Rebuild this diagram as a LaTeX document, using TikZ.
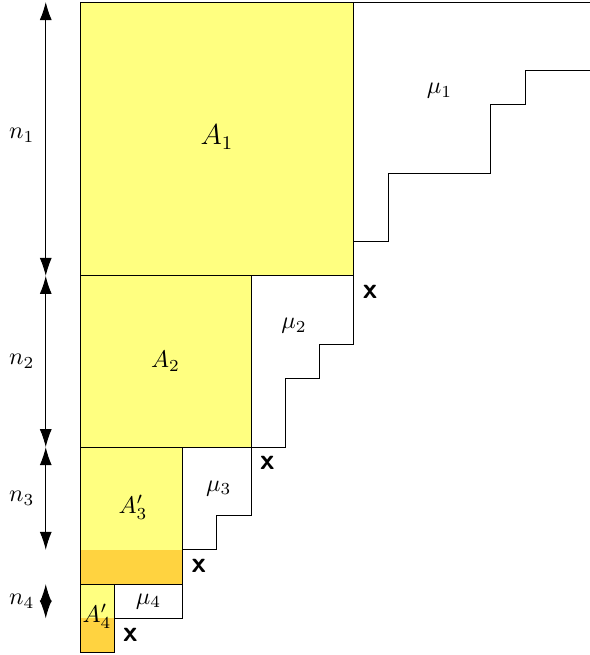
\documentclass[tikz,border=0pt]{standalone}
\usetikzlibrary{arrows.meta}
\definecolor{lightyel}{RGB}{255,255,128}
\definecolor{deeporange}{RGB}{255,211,64}
\tikzset{
  blk/.style={draw=black, line width=0.4pt},
  dimarrow/.style={{Latex[length=7.5pt,width=5pt]}-{Latex[length=7.5pt,width=5pt]}, line width=0.4pt},
  lbl/.style={inner sep=0pt},
  crossmark/.style={inner sep=0pt, font=\sffamily\bfseries\large}
}
\begin{document}
\begin{tikzpicture}[x=0.5cm,y=-0.5cm]
\useasboundingbox (-2.336,-0.058) rectangle (14.89,19.07);
% fills
\fill[lightyel] (0,0) rectangle (8,8);
\fill[lightyel] (0,8) rectangle (5,13);
\fill[lightyel] (0,13) rectangle (3,16);
\fill[deeporange] (0,16) rectangle (3,17);
\fill[lightyel] (0,17) rectangle (1,18);
\fill[deeporange] (0,18) rectangle (1,19);
% boxes
\draw[blk] (0,0) rectangle (8,8);
\draw[blk] (0,8) rectangle (5,13);
\draw[blk] (0,13) rectangle (3,17);
\draw[blk] (0,17) rectangle (1,19);
% mu regions
\draw[blk] (8,0) -- (15,0);
\draw[blk] (8,7) -- (9,7) -- (9,5) -- (12,5) -- (12,3) -- (13,3) -- (13,2) -- (15,2);
\draw[blk] (5,8) -- (8,8) -- (8,10) -- (7,10) -- (7,11) -- (6,11) -- (6,13) -- (5,13);
\draw[blk] (3,13) -- (5,13) -- (5,15) -- (4,15) -- (4,16) -- (3,16);
\draw[blk] (1,17) rectangle (3,18);
% labels
\node[lbl, font=\large] (A1) at (4,3.95) {$A_1$};
\node[lbl] (A2) at (2.5,10.5) {$A_2$};
\node[lbl] (A3) at (1.55,14.75) {$A'_3$};
\node[lbl] (A4) at (0.5,17.95) {$A'_4$};
\node[lbl] (mu1) at (10.5,2.6) {$\mu_1$};
\node[lbl] (mu2) at (6.25,9.45) {$\mu_2$};
\node[lbl] (mu3) at (4.05,14.2) {$\mu_3$};
\node[lbl] (mu4) at (2,17.5) {$\mu_4$};
% crosses
\node[crossmark] (x1) at (8.47,8.47) {x};
\node[crossmark] (x2) at (5.47,13.47) {x};
\node[crossmark] (x3) at (3.47,16.47) {x};
\node[crossmark] (x4) at (1.47,18.47) {x};
% dimension arrows
\coordinate (d0) at (-1,0);
\coordinate (d1) at (-1,8);
\coordinate (d2) at (-1,13);
\coordinate (d3) at (-1,16);
\coordinate (d4) at (-1,17);
\coordinate (d5) at (-1,18);
\draw[dimarrow] (d0) -- (d1);
\draw[dimarrow] (d1) -- (d2);
\draw[dimarrow] (d2) -- (d3);
\draw[dimarrow] (d4) -- (d5);
\node[lbl] (n1) at (-1.7,3.9) {$n_1$};
\node[lbl] (n2) at (-1.7,10.5) {$n_2$};
\node[lbl] (n3) at (-1.7,14.5) {$n_3$};
\node[lbl] (n4) at (-1.7,17.5) {$n_4$};
\end{tikzpicture}
\end{document}
